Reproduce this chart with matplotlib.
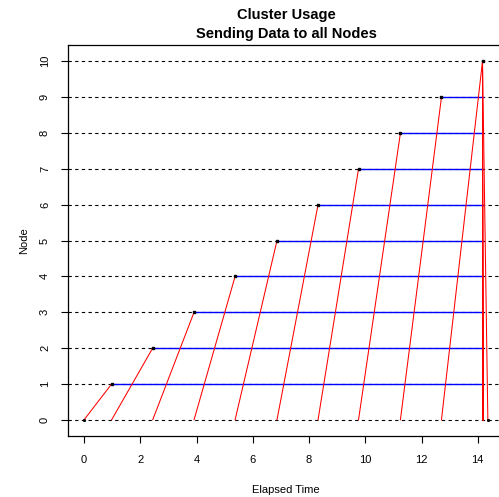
import matplotlib
matplotlib.use("Agg")
import matplotlib.pyplot as plt

plt.rcParams['font.family'] = ['Liberation Sans', 'DejaVu Sans']

# send from master (node 0) -> worker arrival
nodes = [1, 2, 3, 4, 5, 6, 7, 8, 9, 10]
send_start = [0.0, 0.98, 2.44, 3.91, 5.37, 6.86, 8.32, 9.76, 11.25, 12.71]
recv_time = [0.98, 2.44, 3.91, 5.37, 6.86, 8.32, 9.76, 11.25, 12.71, 14.17]
# idle / waiting until results go back
wait_end = [14.17] * 10
# results returned to master
ret_node = [1, 2, 3, 4, 5, 6, 7, 8, 9, 10, 10]
ret_start = [14.17] * 11
ret_end = [14.19] * 10 + [14.36]

n_nodes = 10
elapsed = max(ret_end)

fig = plt.figure(figsize=(4.99, 4.97), dpi=100)
ax = fig.add_axes([68 / 499, 61 / 497, 436 / 499, 391 / 497])

# dashed node lines
for k in range(n_nodes + 1):
    ax.axhline(k, color='black', lw=0.8, dashes=(3, 3), zorder=1)

# waiting bars
for k, r, w in zip(nodes, recv_time, wait_end):
    ax.plot([r, w], [k, k], color='blue', lw=1.0, zorder=2)

# sending lines
for k, s, r in zip(nodes, send_start, recv_time):
    ax.plot([s, r], [0, k], color='red', lw=0.75, zorder=3)

# returning lines
for k, s, e in zip(ret_node, ret_start, ret_end):
    ax.plot([s, e], [k, 0], color='red', lw=0.75, zorder=3)

# small activity markers
ax.plot(recv_time, nodes, 's', color='black', ms=1.6, zorder=4)
ax.plot([0, elapsed], [0, 0], 's', color='black', ms=1.1, zorder=4)

ax.set_xlim(-0.04 * elapsed, 1.04 * elapsed)
ax.set_ylim(-0.05 - 0.04 * 10.1, 10.05 + 0.04 * 10.1)
ax.set_xticks(range(0, 15, 2))
ax.set_yticks(range(0, n_nodes + 1))
ax.tick_params(axis='both', length=5, width=0.8, labelsize=8, pad=9)
ax.tick_params(axis='y', pad=8)
for lab in ax.get_yticklabels():
    lab.set_rotation(90)
    lab.set_va('center')
for sp in ax.spines.values():
    sp.set_linewidth(0.9)
ax.spines['right'].set_visible(False)

ax.set_xlabel('Elapsed Time', fontsize=8, labelpad=14)
ax.set_ylabel('Node', fontsize=8, labelpad=8)
ax.set_title('Cluster Usage\nSending Data to all Nodes', fontsize=10.5,
             fontweight='bold', pad=5, linespacing=1.45)

fig.savefig('out.png', dpi=100)
